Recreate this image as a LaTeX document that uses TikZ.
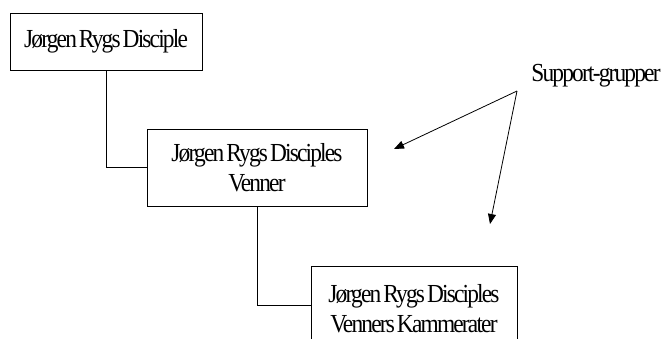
\documentclass[tikz,border=0pt]{standalone}
\usepackage{fontspec}
\setmainfont{Liberation Serif}[FakeStretch=0.9,LetterSpace=-7,WordSpace=0.5]
\usetikzlibrary{arrows.meta}
\begin{document}
\begin{tikzpicture}[x=1pt,y=1pt,
  txt/.style={font=\fontsize{26}{30}\selectfont},
  box/.style={txt,draw,line width=0.8pt,align=center,inner sep=0pt},
  link/.style={line width=0.8pt},
  pointer/.style={line width=0.8pt,-{Triangle[length=10pt,width=8pt]}}]
\useasboundingbox (0,0) rectangle (664,-338);
\node[box,minimum width=192,minimum height=57] (b1) at (106,-41.5) {Jørgen Rygs Disciple};
\node[box,minimum width=220,minimum height=77] (b2) at (257,-167.5) {Jørgen Rygs Disciples\\Venner};
\node[box,minimum width=206,minimum height=86] (b3) at (414,-309) {Jørgen Rygs Disciples\\Venners Kammerater};
\node[txt,inner sep=0pt] (sup) at (596,-76) {Support-grupper};
\coordinate (src) at (517,-91);
\coordinate (t1) at (394,-149);
\coordinate (t2) at (490,-224);
\draw[link] (b1.south) |- (b2.west);
\draw[link] (b2.south) |- ([yshift=4pt]b3.west);
\draw[pointer] (src) -- (t1);
\draw[pointer] (src) -- (t2);
\end{tikzpicture}
\end{document}
